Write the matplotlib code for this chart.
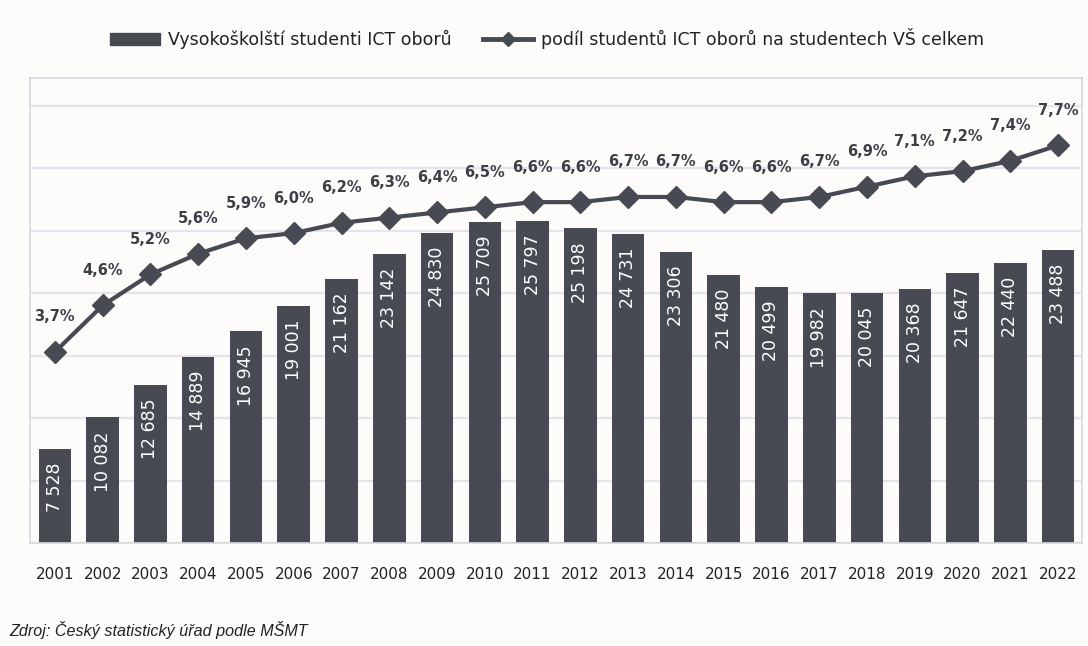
import numpy as np
import matplotlib.pyplot as plt
from matplotlib.lines import Line2D
from matplotlib.patches import Patch

# ------------------------------------------------------------
# data
# ------------------------------------------------------------
years = [str(y) for y in range(2001, 2023)]
students = [7528, 10082, 12685, 14889, 16945, 19001, 21162, 23142, 24830, 25709,
            25797, 25198, 24731, 23306, 21480, 20499, 19982, 20045, 20368, 21647,
            22440, 23488]
share = [3.7, 4.6, 5.2, 5.6, 5.9, 6.0, 6.2, 6.3, 6.4, 6.5, 6.6, 6.6, 6.7, 6.7,
         6.6, 6.6, 6.7, 6.9, 7.1, 7.2, 7.4, 7.7]

label_bars = "Vysokoškolští studenti ICT oborů"
label_line = "podíl studentů ICT oborů na studentech VŠ celkem"
source = "Zdroj: Český statistický úřad podle MŠMT"

BAR = '#474a52'
TXT = '#3c3f46'
GRID = '#e6e4ea'
BG = '#fdfcfb'

# ------------------------------------------------------------
# figure
# ------------------------------------------------------------
fig = plt.figure(figsize=(10.88, 6.46), dpi=100, facecolor=BG)
ax = fig.add_axes([0.0276, 0.1594, 0.9669, 0.7196], facecolor=BG)
x = np.arange(len(years))

ax.bar(x, students, width=0.68, color=BAR, zorder=2)
ax.set_ylim(0, 37200)
ax.set_xlim(-0.52, len(years) - 0.5)
ax.set_yticks(np.arange(0, 35001, 5000))
ax.yaxis.grid(True, color=GRID, linewidth=1.6, zorder=0)
ax.set_xticks(x, years)
for s in ax.spines.values():
    s.set_color('#d8d7de')
    s.set_linewidth(1.2)

for xi, v in zip(x, students):
    ax.annotate(f"{v:,}".replace(',', ' '), (xi, v), xytext=(0, -14),
                textcoords='offset pixels', rotation=90, ha='center', va='top',
                color='white', fontsize=12.5, zorder=3)

ax2 = ax.twinx()
ax2.set_ylim(0, 9)
ax2.plot(x, share, color=BAR, linewidth=3, marker='D', markersize=11, zorder=4)
for s in ax2.spines.values():
    s.set_visible(False)

for xi, v in zip(x, share):
    ax2.annotate(f"{v:.1f}%".replace('.', ','), (xi, v), xytext=(0, 35),
                 textcoords='offset pixels', ha='center', va='center',
                 color=TXT, fontsize=10.5, fontweight='bold')

# tick params after twinx (twinx turns the left ticks back on)
ax.tick_params(axis='y', left=False, labelleft=False, right=False, labelright=False)
ax2.tick_params(axis='y', left=False, labelleft=False, right=False, labelright=False)
ax.tick_params(axis='x', bottom=False, labelsize=11, labelcolor='#222222', pad=14)

handles = [Patch(color=BAR),
           Line2D([], [], color=BAR, linewidth=3.5, marker='D', markersize=7)]
fig.legend(handles, [label_bars, label_line], loc='center',
           bbox_to_anchor=(0.503, 0.94), ncol=2, frameon=False,
           fontsize=12.5, handlelength=2.9, handleheight=0.7,
           handletextpad=0.45, columnspacing=1.8, labelcolor='#222222')

fig.text(0.009, 0.016, source, fontsize=11.6, style='italic',
         family='Liberation Sans', color='#222222')

fig.savefig('out.png', dpi=100, facecolor=BG)
